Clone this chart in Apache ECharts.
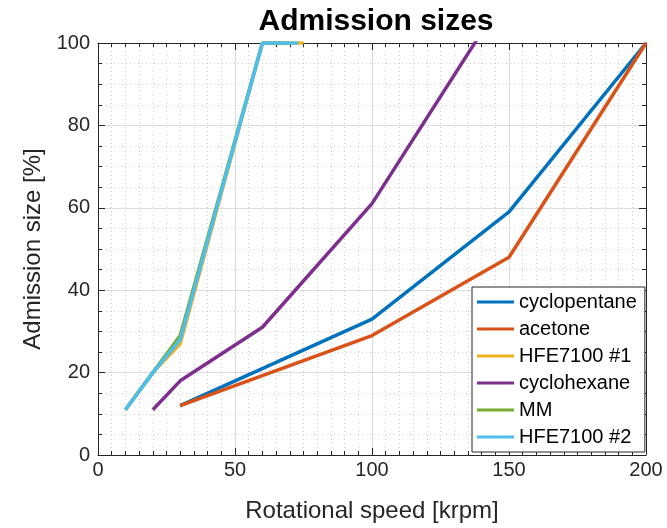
<!DOCTYPE html>
<html><head><meta charset="utf-8">
<script src="https://cdn.jsdelivr.net/npm/echarts@6/dist/echarts.min.js"></script>
<style>html,body{margin:0;padding:0;background:#fff}#c{width:667px;height:528px}</style>
</head><body><div id="c"></div>
<script>
const seriesNames = ['cyclopentane','acetone','HFE7100 #1','cyclohexane','MM','HFE7100 #2'];
const cyclopentane = [[30,12],[100,33],[150,59],[200,100]];
const acetone = [[30,12],[100,29],[150,48],[200,100]];
const hfe1 = [[10,11],[20,20],[30,27],[60,100],[75,100]];
const cyclohexane = [[20,11],[30,18],[60,31],[100,61],[150,113]];
const mm = [[10,11],[20,20],[30,29],[60,100],[70,100]];
const hfe2 = [[10,11],[20,20],[30,28],[60,100],[73,100]];
const xTicks = [0,50,100,150,200];
const yTicks = [0,20,40,60,80,100];
const colors = ['#0072BD','#D95319','#EDB120','#7E2F8E','#77AC30','#4DBEEE'];
const allData = [cyclopentane, acetone, hfe1, cyclohexane, mm, hfe2];

const font = 'Liberation Sans, Arial, Helvetica, sans-serif';
const axisCol = '#262626';
function axisBase(extra){
  return Object.assign({
    type:'value',
    axisLine:{show:true,onZero:false,lineStyle:{color:axisCol,width:1}},
    axisTick:{show:true,inside:true,length:7,lineStyle:{color:axisCol}},
    axisLabel:{color:axisCol,fontSize:20,fontFamily:font},
    splitLine:{show:true,lineStyle:{color:'#dcdcdc',width:1}},
    minorSplitLine:{show:true,lineStyle:{color:'#cfcfcf',type:[1,3],width:1}}
  }, extra);
}
const chart = echarts.init(document.getElementById('c'));
chart.setOption({
  animation:false,
  title:{text:'Admission sizes',left:371,textAlign:'center',top:2,
    textStyle:{fontSize:30,fontWeight:'bold',color:'#000',fontFamily:font}},
  grid:{left:98,right:21,top:43,bottom:72,containLabel:false},
  legend:{
    orient:'vertical',left:472,top:287,
    data:seriesNames,
    icon:'rect',itemWidth:37,itemHeight:3,itemGap:3,
    padding:[3,8,3,5],
    borderColor:axisCol,borderWidth:1,backgroundColor:'#fff',
    textStyle:{fontSize:20,fontFamily:font,color:'#000',lineHeight:24}
  },
  xAxis:[
    axisBase({min:0,max:200,interval:50,position:'bottom',
      minorTick:{show:true,splitNumber:10,length:4,lineStyle:{color:axisCol}},
      axisLabel:{color:axisCol,fontSize:20,fontFamily:font,margin:5,
        formatter:v=>xTicks.includes(v)?String(v):''},
      name:'Rotational speed [krpm]',nameLocation:'middle',nameGap:44,
      nameTextStyle:{fontSize:24,color:axisCol,fontFamily:font}}),
    axisBase({min:0,max:200,interval:50,position:'top',
      minorTick:{show:true,splitNumber:10,length:4,lineStyle:{color:axisCol}},
      axisLabel:{show:false},splitLine:{show:false},minorSplitLine:{show:false}})
  ],
  yAxis:[
    axisBase({min:0,max:100,interval:20,position:'left',
      minorTick:{show:true,splitNumber:4,length:4,lineStyle:{color:axisCol}},
      axisLabel:{color:axisCol,fontSize:20,fontFamily:font,margin:8,
        formatter:v=>yTicks.includes(v)?String(v):''},
      name:'Admission size [%]',nameLocation:'middle',nameGap:49,
      nameTextStyle:{fontSize:24,color:axisCol,fontFamily:font}}),
    axisBase({min:0,max:100,interval:20,position:'right',
      minorTick:{show:true,splitNumber:4,length:4,lineStyle:{color:axisCol}},
      axisLabel:{show:false},splitLine:{show:false},minorSplitLine:{show:false}})
  ],
  series: seriesNames.map((n,i)=>({
    name:n,type:'line',data:allData[i],xAxisIndex:0,yAxisIndex:0,
    symbol:'none',clip:true,
    lineStyle:{color:colors[i],width:3.5},itemStyle:{color:colors[i]},
    z:2+i
  }))
});
</script></body></html>
